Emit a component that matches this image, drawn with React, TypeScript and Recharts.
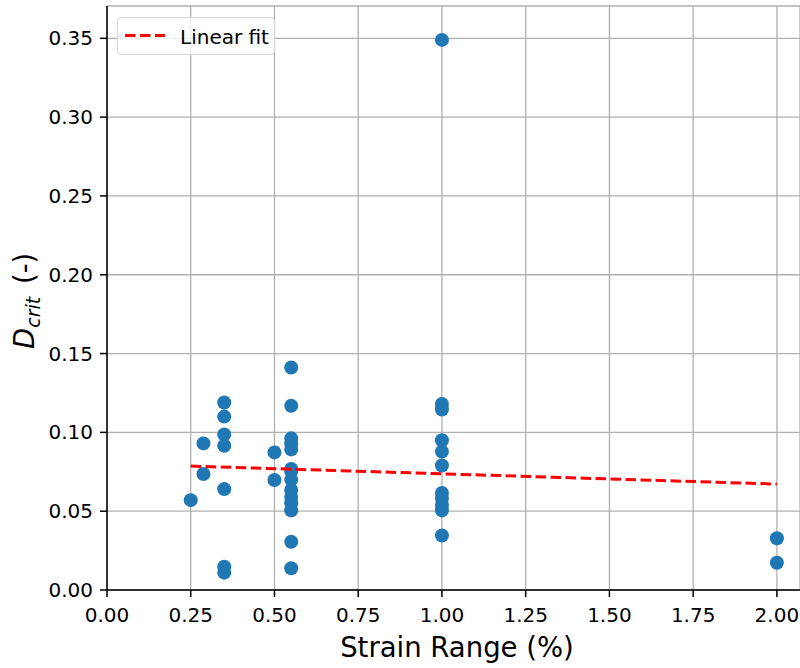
import { CartesianGrid, Legend, Scatter, ScatterChart, XAxis, YAxis } from "recharts";

// measured critical damage per test, paired by index
const strainRange = [
  0.25,
  0.288, 0.288,
  0.35, 0.35, 0.35, 0.35, 0.35, 0.35, 0.35,
  0.5, 0.5,
  0.55, 0.55, 0.55, 0.55, 0.55, 0.55, 0.55, 0.55, 0.55, 0.55, 0.55, 0.55, 0.55, 0.55,
  1.0, 1.0, 1.0, 1.0, 1.0, 1.0, 1.0, 1.0, 1.0, 1.0, 1.0,
  2.0, 2.0,
];
const dCrit = [
  0.057,
  0.093, 0.0736,
  0.119, 0.11, 0.0987, 0.0915, 0.064, 0.0148, 0.011,
  0.0873, 0.0698,
  0.1412, 0.1169, 0.0962, 0.093, 0.0892, 0.0768, 0.0755, 0.07, 0.0635, 0.059, 0.055, 0.0505, 0.0306, 0.0138,
  0.349, 0.118, 0.1145, 0.095, 0.0878, 0.079, 0.0615, 0.058, 0.054, 0.0505, 0.0346,
  0.0328, 0.0173,
];

// linear fit end points
const fitX = [0.25, 2.0];
const fitY = [0.0786, 0.0672];

const xTicks = [0, 0.25, 0.5, 0.75, 1.0, 1.25, 1.5, 1.75, 2.0];
const yTicks = [0, 0.05, 0.1, 0.15, 0.2, 0.25, 0.3, 0.35];

const FONT = "DejaVu Sans";
const BLUE = "#1f77b4";
const GRID = "#b0b0b0";

const points = strainRange.map((x, i) => ({ x, y: dCrit[i] }));
const fitData = fitX.map((x, i) => ({ x, y: fitY[i] }));

function Dot(props: any) {
  const { cx, cy } = props;
  if (cx == null || cy == null) return <g />;
  return <circle cx={cx} cy={cy} r={7} fill={BLUE} />;
}

function renderYLabel() {
  return (
    <text x={34} y={349} transform="rotate(-90, 34, 349)" fontSize={27.5} fontFamily={FONT} fill="#000">
      <tspan fontStyle="italic">D</tspan>
      <tspan fontStyle="italic" fontSize={19} dy={6}>crit</tspan>
      <tspan dy={-6} dx={4}> (-)</tspan>
    </text>
  );
}

function renderXLabel() {
  return (
    <text x={457} y={657} textAnchor="middle" fontSize={27.5} fontFamily={FONT} fill="#000">
      Strain Range (%)
    </text>
  );
}

function renderLegend(props: any) {
  const items = (props.payload ?? []).filter((p: any) => p.type !== "none");
  return (
    <div
      style={{
        boxSizing: "border-box",
        width: 158,
        height: 38,
        border: "1px solid #d6d6d6",
        borderRadius: 4,
        background: "rgba(255,255,255,0.8)",
      }}
    >
      <svg width={156} height={36} style={{ display: "block" }}>
        {items.map((item: any) => (
          <g key={item.value}>
            <line x1={7} x2={47} y1={17.5} y2={17.5} stroke="red" strokeWidth={3} strokeDasharray="10.5 4.5" />
            <text x={62} y={25.5} fontSize={20} fontFamily={FONT} fill="#000">
              {item.value}
            </text>
          </g>
        ))}
      </svg>
    </div>
  );
}

export default function App() {
  return (
    <div style={{ position: "absolute", left: 0, top: 0, width: 800, height: 668, background: "#fff", overflow: "hidden" }}>
      <ScatterChart width={800} height={668} margin={{ top: 6, right: 0, bottom: 0, left: 0 }} style={{ fontFamily: FONT }}>
        <CartesianGrid stroke={GRID} strokeWidth={1.3} />
        <XAxis
          type="number"
          dataKey="x"
          domain={[0, 2.069]}
          allowDataOverflow
          ticks={xTicks}
          tickFormatter={(v: number) => v.toFixed(2)}
          height={78}
          tickSize={7}
          tickMargin={11}
          axisLine={{ stroke: "#000", strokeWidth: 1.5 }}
          tickLine={{ stroke: "#000", strokeWidth: 1.5 }}
          tick={{ fill: "#000", fontSize: 20, fontFamily: FONT }}
          label={renderXLabel}
        />
        <XAxis
          xAxisId="top"
          orientation="top"
          type="number"
          domain={[0, 2.069]}
          allowDataOverflow
          height={0}
          tick={false}
          tickLine={false}
          axisLine={{ stroke: "#000", strokeWidth: 1.5 }}
        />
        <YAxis
          type="number"
          dataKey="y"
          domain={[0, 0.3705]}
          allowDataOverflow
          ticks={yTicks}
          tickFormatter={(v: number) => v.toFixed(2)}
          width={107}
          tickSize={7}
          tickMargin={7}
          axisLine={{ stroke: "#000", strokeWidth: 1.5 }}
          tickLine={{ stroke: "#000", strokeWidth: 1.5 }}
          tick={{ fill: "#000", fontSize: 20, fontFamily: FONT }}
          label={renderYLabel}
        />
        <Legend
          layout="vertical"
          verticalAlign="middle"
          align="center"
          wrapperStyle={{ position: "absolute", left: 117, top: 17, width: 158, height: 38 }}
          content={renderLegend}
        />
        <Scatter name="D_crit" data={points} shape={Dot} legendType="none" isAnimationActive={false} />
        <Scatter
          name="Linear fit"
          data={fitData}
          shape={() => <g />}
          line={{ stroke: "red", strokeWidth: 3, strokeDasharray: "10.5 4.5" }}
          lineType="joint"
          legendType="line"
          isAnimationActive={false}
        />
      </ScatterChart>
    </div>
  );
}
